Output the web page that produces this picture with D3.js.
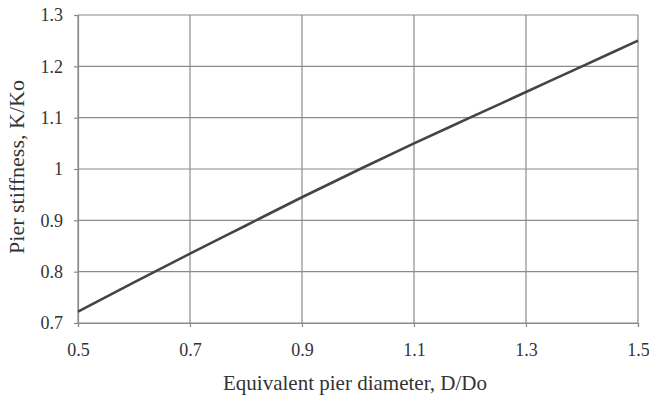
<!DOCTYPE html>
<html>
  <head>
    <meta charset="utf-8">
    <script src="https://cdn.jsdelivr.net/npm/d3@7"></script>
    <style>
      body { margin: 0; background: #fff; }
      text { font-family: "Liberation Serif", "Times New Roman", serif; fill: #333; }
    </style>
  </head>
  <body>
    <script>
      // Data
      var diameters = [0.5, 0.6, 0.7, 0.8, 0.9, 1.0, 1.1, 1.2, 1.3, 1.4, 1.5];
      var stiffness = [0.722, 0.779, 0.835, 0.89, 0.945, 0.998, 1.05, 1.10, 1.15, 1.20, 1.25];
      var xTicks = [0.5, 0.7, 0.9, 1.1, 1.3, 1.5];
      var yTicks = [0.7, 0.8, 0.9, 1.0, 1.1, 1.2, 1.3];

      var width = 649, height = 402;
      var margin = {top: 15, right: 11, bottom: 79, left: 78};

      var svg = d3.select("body").append("svg")
        .attr("width", width).attr("height", height);

      var x = d3.scaleLinear().domain([0.5, 1.5])
        .range([margin.left, width - margin.right]);
      var y = d3.scaleLinear().domain([0.7, 1.3])
        .range([height - margin.bottom, margin.top]);

      // Grid lines
      svg.append("g").selectAll("line").data(yTicks).enter().append("line")
        .attr("x1", margin.left).attr("x2", width - margin.right)
        .attr("y1", function(d){ return y(d); }).attr("y2", function(d){ return y(d); })
        .attr("stroke", "#8a8a8a").attr("stroke-width", 1.2);
      svg.append("g").selectAll("line").data(xTicks).enter().append("line")
        .attr("y1", margin.top).attr("y2", height - margin.bottom)
        .attr("x1", function(d){ return x(d); }).attr("x2", function(d){ return x(d); })
        .attr("stroke", "#8a8a8a").attr("stroke-width", 1.2);

      // Axes
      var xAxis = d3.axisBottom(x).tickValues(xTicks).tickSize(4)
        .tickFormat(d3.format(".1f"));
      var yAxis = d3.axisLeft(y).tickValues(yTicks).tickSize(4).tickPadding(11)
        .tickFormat(function(d){ return d === 1 ? "1" : d3.format(".1f")(d); });

      var gx = svg.append("g")
        .attr("transform", "translate(0," + (height - margin.bottom) + ")")
        .call(xAxis);
      var gy = svg.append("g")
        .attr("transform", "translate(" + margin.left + ",0)")
        .call(yAxis);
      [gx, gy].forEach(function(g){
        g.select(".domain").attr("stroke", "#8a8a8a").attr("stroke-width", 1.2);
        g.selectAll(".tick line").attr("stroke", "#8a8a8a").attr("stroke-width", 1.2);
        g.selectAll("text").style("font-family", "Liberation Serif")
          .style("font-size", "18px").attr("fill", "#333");
      });
      // Baseline of the x labels sits about 33px under the axis
      gx.selectAll("text").attr("y", 33).attr("dy", 0);

      // Curve
      var line = d3.line()
        .x(function(d, i){ return x(diameters[i]); })
        .y(function(d){ return y(d); })
        .curve(d3.curveMonotoneX);
      svg.append("path").datum(stiffness)
        .attr("d", line)
        .attr("fill", "none")
        .attr("stroke", "#444")
        .attr("stroke-width", 2.6);

      // Axis titles
      svg.append("text")
        .attr("x", 355)
        .attr("y", 390)
        .attr("text-anchor", "middle")
        .style("font-size", "21px")
        .text("Equivalent pier diameter, D/Do");
      svg.append("text")
        .attr("transform", "rotate(-90)")
        .attr("x", -167)
        .attr("y", 24)
        .attr("text-anchor", "middle")
        .style("font-size", "22px")
        .text("Pier stiffness, K/Ko");
    </script>
  </body>
</html>
